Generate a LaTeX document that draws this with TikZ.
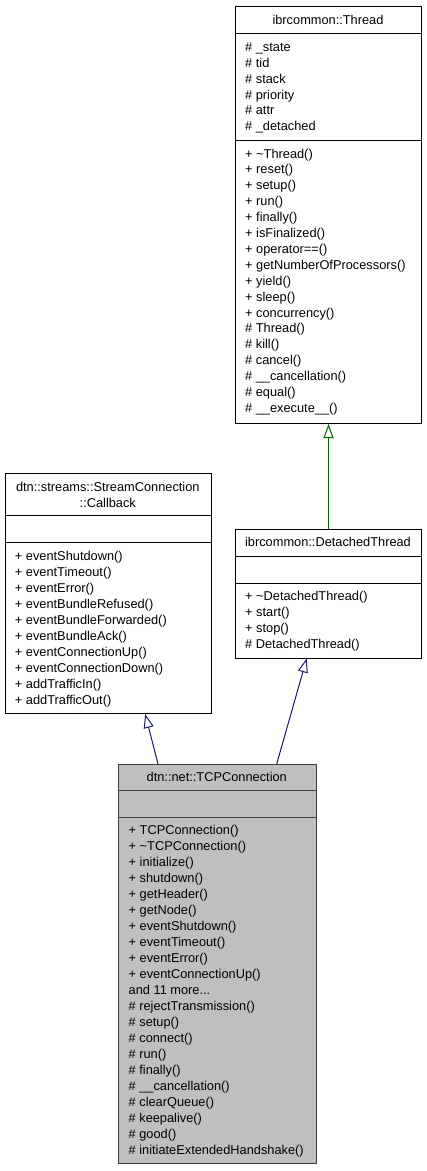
\documentclass[tikz,border=0pt]{standalone}
\usepackage{fontspec}
\setmainfont{Liberation Sans}
\usetikzlibrary{arrows.meta,calc}
\definecolor{mblue}{HTML}{191970}
\definecolor{dgreen}{HTML}{006400}
\definecolor{tcpfill}{HTML}{BFBFBF}
\definecolor{tcpline}{HTML}{404040}
\newcommand\mymoredots{...}
\tikzset{
 cls/.style={draw=black, line width=1pt, fill=white, inner sep=0pt, anchor=north west},
 root/.style={cls, draw=tcpline, fill=tcpfill},
 sepline/.style={line width=1pt, draw=black},
 rootsep/.style={line width=1pt, draw=tcpline},
 txt/.style={inner sep=0pt, font=\fontsize{12.8}{16}\selectfont, anchor=base west},
 ttl/.style={txt, anchor=base},
 inh/.style={line width=1pt, -{Triangle[open,length=14pt,width=10pt]}, draw=mblue},
 inhp/.style={inh, draw=dgreen},
}
\begin{document}
\begin{tikzpicture}[x=1pt,y=-1pt]
\fill[white] (0,0) rectangle (427,1171);
\useasboundingbox (0,0) rectangle (427,1171);

% ---- ibrcommon::Thread
\node[cls, minimum width=186pt, minimum height=417pt] (thread) at (235,6) {};
\draw[sepline] (thread.west |- 0,33) -- (thread.east |- 0,33);
\draw[sepline] (thread.west |- 0,140) -- (thread.east |- 0,140);
\node[ttl] (thread-t) at (328,24.6) {ibrcommon::Thread};
\foreach \t [count=\i from 0] in {\# \_state,\# tid,\# stack,\# priority,\# attr,\# \_detached}
  \node[txt] (thread-a\i) at (245,{51.3+\i*15.9}) {\t};
\foreach \t [count=\i from 0] in {+ \textasciitilde Thread(),+ reset(),+ setup(),+ run(),+ finally(),+ isFinalized(),+ operator==(),+ getNumberOfProcessors(),+ yield(),+ sleep(),+ concurrency(),\# Thread(),\# kill(),\# cancel(),\# \_\_cancellation(),\# equal(),\# \_\_execute\_\_()}
  \node[txt] (thread-m\i) at (245,{158+\i*15.9}) {\t};

% ---- dtn::streams::StreamConnection::Callback
\node[cls, minimum width=206.3pt, minimum height=239.7pt] (cb) at (4.7,473.3) {};
\draw[sepline] (cb.west |- 0,515.7) -- (cb.east |- 0,515.7);
\draw[sepline] (cb.west |- 0,542.3) -- (cb.east |- 0,542.3);
\node[ttl] (cb-t1) at (107.8,491.3) {dtn::streams::StreamConnection};
\node[ttl] (cb-t2) at (107.8,507) {::Callback};
\foreach \t [count=\i from 0] in {+ eventShutdown(),+ eventTimeout(),+ eventError(),+ eventBundleRefused(),+ eventBundleForwarded(),+ eventBundleAck(),+ eventConnectionUp(),+ eventConnectionDown(),+ addTrafficIn(),+ addTrafficOut()}
  \node[txt] (cb-m\i) at (14.7,{560.7+\i*16}) {\t};

% ---- ibrcommon::DetachedThread
\node[cls, minimum width=186pt, minimum height=128.5pt] (dt) at (235,529) {};
\draw[sepline] (dt.west |- 0,556) -- (dt.east |- 0,556);
\draw[sepline] (dt.west |- 0,583.3) -- (dt.east |- 0,583.3);
\node[ttl] (dt-t) at (328,546.7) {ibrcommon::DetachedThread};
\foreach \t [count=\i from 0] in {+ \textasciitilde DetachedThread(),+ start(),+ stop(),\# DetachedThread()}
  \node[txt] (dt-m\i) at (245,{600.7+\i*15.9}) {\t};

% ---- dtn::net::TCPConnection
\node[root, minimum width=197.5pt, minimum height=399pt] (tcp) at (118,764) {};
\draw[rootsep] (tcp.west |- 0,790.5) -- (tcp.east |- 0,790.5);
\draw[rootsep] (tcp.west |- 0,817.3) -- (tcp.east |- 0,817.3);
\node[ttl] (tcp-t) at (216.75,781.3) {dtn::net::TCPConnection};
\foreach \t [count=\i from 0] in {+ TCPConnection(),+ \textasciitilde TCPConnection(),+ initialize(),+ shutdown(),+ getHeader(),+ getNode(),+ eventShutdown(),+ eventTimeout(),+ eventError(),+ eventConnectionUp(),{and 11 more\mymoredots},\# rejectTransmission(),\# setup(),\# connect(),\# run(),\# finally(),\# \_\_cancellation(),\# clearQueue(),\# keepalive(),\# good(),\# initiateExtendedHandshake()}
  \node[txt] (tcp-m\i) at (128.5,{834.6+\i*16}) {\t};

% ---- inheritance connectors
\draw[inhp] (dt.north) -- (thread.south);
\draw[inh] ([xshift=40pt]tcp.north west) -- ([xshift=140.5pt]cb.south west);
\draw[inh] ([xshift=158.7pt]tcp.north west) -- ([xshift=71.7pt]dt.south west);
\end{tikzpicture}
\end{document}
